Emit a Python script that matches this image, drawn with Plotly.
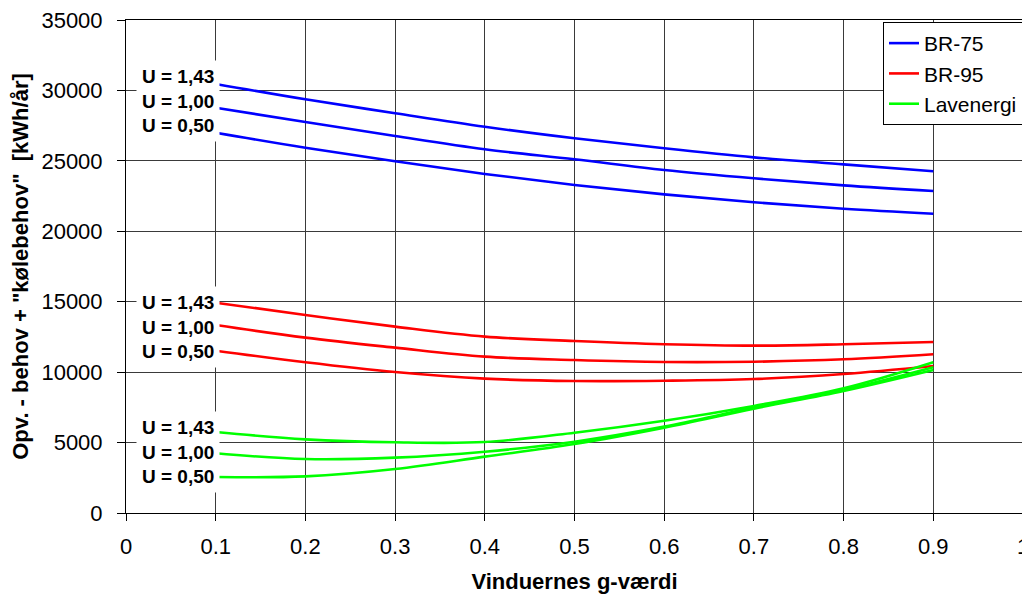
import plotly.graph_objects as go

# ---- data ----
g_values = [0.1, 0.2, 0.3, 0.4, 0.5, 0.6, 0.7, 0.8, 0.9]

br75_u143 = [30460, 29370, 28380, 27420, 26600, 25890, 25250, 24750, 24260]
br75_u100 = [28770, 27760, 26760, 25820, 25110, 24350, 23760, 23260, 22860]
br75_u050 = [27000, 25930, 24970, 24070, 23290, 22620, 22060, 21600, 21250]

br95_u143 = [14930, 14060, 13230, 12520, 12210, 11980, 11880, 11980, 12140]
br95_u100 = [13350, 12450, 11740, 11100, 10860, 10720, 10740, 10910, 11270]
br95_u050 = [11520, 10700, 10010, 9540, 9370, 9390, 9510, 9870, 10440]

lav_u143 = [5750, 5230, 5020, 5040, 5700, 6550, 7600, 8850, 10700]
lav_u100 = [4240, 3830, 3930, 4350, 5060, 6130, 7480, 8730, 10340]
lav_u050 = [2560, 2600, 3120, 4000, 4900, 6060, 7410, 8660, 10150]

series_names = ["BR-75", "BR-95", "Lavenergi"]
u_labels = ["U = 1,43", "U = 1,00", "U = 0,50"]

x_tickvals = [0, 0.1, 0.2, 0.3, 0.4, 0.5, 0.6, 0.7, 0.8, 0.9, 1]
x_ticktext = ["0", "0.1", "0.2", "0.3", "0.4", "0.5", "0.6", "0.7", "0.8", "0.9", "1"]
y_tickvals = [0, 5000, 10000, 15000, 20000, 25000, 30000, 35000]
y_ticktext = ["0", "5000", "10000", "15000", "20000", "25000", "30000", "35000"]

groups = [
    ("BR-75", "#0000FF", [br75_u143, br75_u100, br75_u050]),
    ("BR-95", "#FF0000", [br95_u143, br95_u100, br95_u050]),
    ("Lavenergi", "#00FF00", [lav_u143, lav_u100, lav_u050]),
]

FONT = "Arial, Liberation Sans, sans-serif"

fig = go.Figure()
for name, color, curves in groups:
    for i, ys in enumerate(curves):
        fig.add_trace(go.Scatter(
            x=g_values, y=ys, mode="lines", name=name,
            line=dict(color=color, width=2.6, shape="spline", smoothing=1.0),
            showlegend=(i == 0), legendgroup=name,
        ))

# label boxes at the left (centre values of each group)
label_centres = [29220, 13230, 4330]
for yc in label_centres:
    fig.add_annotation(
        x=0.1, y=yc, xref="x", yref="y", xanchor="right", yanchor="middle",
        xshift=4, text="<br>".join(u_labels), showarrow=False, align="left",
        font=dict(family=FONT, size=19, color="black", weight="bold"),
        bgcolor="white", borderpad=5,
    )

axis_common = dict(
    showgrid=True, gridcolor="#3a3a3a", gridwidth=1,
    showline=True, linecolor="black", linewidth=1, mirror=True,
    ticks="outside", tickcolor="black", zeroline=False,
    ticklabeloverflow="allow", automargin=False,
    tickfont=dict(family=FONT, size=22, color="black"),
)

fig.update_xaxes(
    range=[0, 1], tickvals=x_tickvals, ticktext=x_ticktext,
    ticklen=7, ticklabelstandoff=7,
    title=dict(text="Vinduernes g-værdi", standoff=15,
               font=dict(family=FONT, size=22, color="black", weight="bold")),
    **axis_common,
)
fig.update_yaxes(
    range=[0, 35000], tickvals=y_tickvals, ticktext=y_ticktext,
    ticklen=8, ticklabelstandoff=10,
    title=dict(text='Opv. - behov + "kølebehov"  [kWh/år]', standoff=17,
               font=dict(family=FONT, size=22, color="black", weight="bold")),
    **axis_common,
)

# page body has an 8px margin, so the figure is sized/offset to compensate
fig.update_layout(
    width=1022, height=591,
    margin=dict(l=118, r=7, t=12, b=86),
    plot_bgcolor="white", paper_bgcolor="white",
    font=dict(family=FONT, color="black"),
    legend=dict(
        x=1.0, y=0.996, xanchor="right", yanchor="top",
        bgcolor="white", bordercolor="black", borderwidth=1,
        font=dict(family=FONT, size=21, color="black"),
        tracegroupgap=0,
    ),
)

fig.write_html("out.html")
